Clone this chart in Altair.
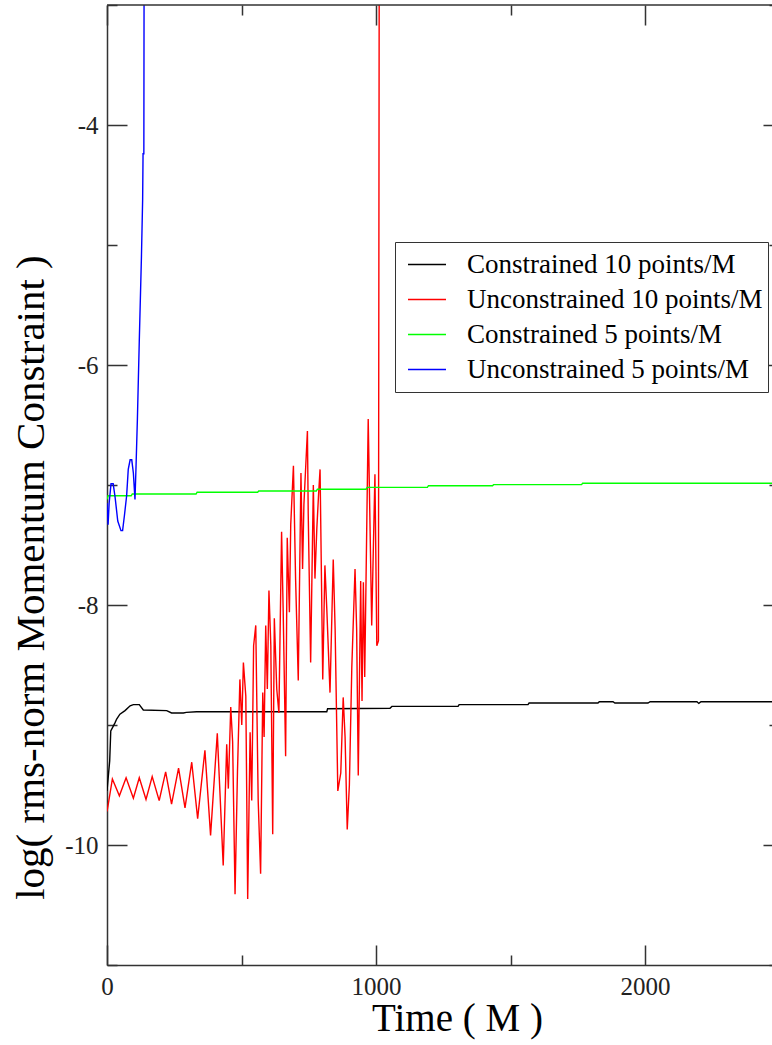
import altair as alt
import pandas as pd

# Series names and colours, in legend / drawing order
SERIES = [
    "Constrained 10 points/M",
    "Unconstrained 10 points/M",
    "Constrained 5 points/M",
    "Unconstrained 5 points/M",
]
COLORS = ["#000000", "#ff0000", "#00ff00", "#0000ff"]

# Constrained, 10 points/M
black_t = [0, 4, 10, 14, 21, 30, 36, 48, 67, 86, 98, 120, 135, 222, 240, 284, 295, 333,
           817, 820, 1052, 1059, 1305, 1309, 1565, 1569, 1825, 1830, 1881, 1888, 2011,
           2019, 2193, 2200, 2208, 2472]
black_v = [-9.55, -9.45, -9.3, -9.05, -9.02, -8.98, -8.95, -8.91, -8.88, -8.84, -8.83,
           -8.83, -8.875, -8.88, -8.9, -8.9, -8.895, -8.89, -8.89, -8.865, -8.86, -8.845,
           -8.845, -8.83, -8.83, -8.817, -8.817, -8.806, -8.806, -8.817, -8.817, -8.806,
           -8.806, -8.82, -8.806, -8.806]

# Unconstrained, 10 points/M
red_t = [0, 4, 20, 46, 71, 98, 120, 145, 168, 194,
         218, 240, 266, 290, 315, 337, 364, 385, 410, 432,
         445, 451, 460, 467, 476, 485, 494, 501, 507, 516,
         523, 532, 538, 545, 553, 562, 571, 579, 584, 590,
         596, 602, 609, 616, 622, 631, 639, 649, 655, 664,
         670, 678, 683, 693, 701, 711, 721, 727, 732, 745,
         748, 757, 767, 773, 780, 786, 792, 802, 810, 817,
         829, 841, 848, 858, 869, 878, 885, 893, 901, 910,
         922, 928, 934, 943, 948, 953, 958, 971, 984, 996,
         1003, 1009, 1012]
red_v = [-9.72, -9.67, -9.45, -9.59, -9.44, -9.61, -9.44, -9.62, -9.43, -9.63,
         -9.39, -9.66, -9.36, -9.69, -9.31, -9.78, -9.21, -9.92, -9.07, -10.17,
         -9.16, -9.53, -8.85, -9.14, -10.41, -9.39, -8.62, -9.0, -8.48, -8.76,
         -10.45, -9.06, -9.63, -8.34, -8.17, -9.63, -10.24, -8.73, -9.1, -8.17,
         -8.7, -7.88, -8.34, -9.91, -8.11, -8.7, -8.9, -7.39, -8.06, -9.26,
         -7.44, -8.06, -7.33, -6.84, -7.78, -8.63, -6.9, -7.7, -7.16, -6.55,
         -7.24, -8.48, -7.0, -7.78, -7.36, -7.1, -6.87, -8.62, -7.67, -8.03,
         -8.73, -7.62, -8.2, -9.55, -9.4, -8.77, -9.1, -9.87, -9.5, -8.52,
         -7.7, -8.2, -9.42, -7.8, -8.8, -7.81, -8.6, -6.45, -8.17, -6.91,
         -8.34, -8.3, -2.5]

# Constrained, 5 points/M
green_t = [0, 4, 90, 94, 331, 335, 560, 564, 778, 782, 963, 967, 1191, 1195, 1433,
           1437, 1764, 1768, 2472]
green_v = [-7.12, -7.09, -7.09, -7.075, -7.075, -7.06, -7.06, -7.05, -7.05, -7.035,
           -7.035, -7.02, -7.02, -7.006, -7.006, -6.997, -6.997, -6.986, -6.986]

# Unconstrained, 5 points/M
blue_t = [0, 4, 8, 15, 23, 30, 40, 52, 58, 65, 73, 79, 86, 92, 98, 104, 108, 113,
          120, 128, 132.5, 134, 137, 138]
blue_v = [-7.15, -7.33, -7.15, -6.99, -6.99, -7.1, -7.3, -7.38, -7.38, -7.25, -7.09,
          -6.87, -6.79, -6.79, -6.9, -7.12, -6.84, -6.45, -5.8, -5.1, -4.62, -4.24,
          -4.24, -2.5]

frames = []
for name, ts, vs in zip(SERIES, [black_t, red_t, green_t, blue_t],
                        [black_v, red_v, green_v, blue_v]):
    frames.append(pd.DataFrame({"t": ts, "v": vs, "series": name}))
df = pd.concat(frames, ignore_index=True)

W, H = 665, 960
FONT = "Liberation Serif"
AX = "#333333"

x_enc = alt.X(
    "t:Q",
    scale=alt.Scale(domain=[0, 2472], nice=False, zero=False),
    axis=alt.Axis(
        values=[0, 500, 1000, 1500, 2000],
        labelExpr="datum.value % 1000 === 0 ? '' + datum.value : ''",
        title="Time ( M )",
        titleX=350, titleY=65, titleAlign="center", titleBaseline="alphabetic",
        titleFont=FONT, titleFontSize=39, titleFontWeight="normal", titleColor="#000",
        labelFont=FONT, labelFontSize=25, labelColor="#222",
        labelBaseline="alphabetic", labelPadding=29, labelFlush=False,
        ticks=False, grid=True, gridColor=AX, gridWidth=1.5, gridOpacity=1,
        gridDash={"condition": {"test": "datum.value % 1000 === 0",
                                "value": [20, 920, 20, 100]},
                  "value": [10, 940, 10, 100]},
        domainColor=AX, domainWidth=1.5,
    ),
)
y_enc = alt.Y(
    "v:Q",
    scale=alt.Scale(domain=[-11, -3], nice=False, zero=False),
    axis=alt.Axis(
        values=[-11, -10, -9, -8, -7, -6, -5, -4, -3],
        labelExpr="datum.value % 2 === 0 ? '' + datum.value : ''",
        title="log( rms-norm Momentum Constraint )",
        titleFont=FONT, titleFontSize=41, titleFontWeight="normal", titleColor="#000",
        titleAngle=270, titleX=-64, titleY=572, titleAlign="center",
        titleBaseline="alphabetic",
        labelFont=FONT, labelFontSize=25, labelColor="#222", labelPadding=9,
        labelFlush=False,
        ticks=False, grid=True, gridColor=AX, gridWidth=1.5, gridOpacity=1,
        gridDash={"condition": {"test": "datum.value % 2 === 0",
                                "value": [20, 636, 9, 100]},
                  "value": [10, 652, 3, 100]},
        domainColor=AX, domainWidth=1.5,
    ),
)
color_enc = alt.Color(
    "series:N",
    scale=alt.Scale(domain=SERIES, range=COLORS),
    legend=alt.Legend(
        title=None, orient="none", legendX=288, legendY=237,
        symbolType="stroke", symbolSize=1444, symbolStrokeWidth=1.5,
        labelFont=FONT, labelFontSize=27, labelColor="#000", labelLimit=400,
        labelOffset=20, rowPadding=0, clipHeight=35, padding=5, symbolOffset=7,
        strokeColor=AX, fillColor="#ffffff", cornerRadius=0,
    ),
)

base = alt.Chart(df).encode(x=x_enc, y=y_enc, color=color_enc)
lines = [
    base.transform_filter(alt.datum.series == name).mark_line(strokeWidth=1.4, clip=True)
    for name in SERIES
]

# top edge of the frame
top_edge = alt.Chart(pd.DataFrame({"k": [0]})).mark_rule(
    color=AX, strokeWidth=1.5
).encode(x=alt.value(0), x2=alt.value(W), y=alt.value(0))

chart = alt.layer(*lines, top_edge).properties(
    width=W, height=H,
    background="#ffffff",
    autosize=alt.AutoSizeParams(type="none"),
    padding={"left": 107, "top": 5, "right": 0, "bottom": 75},
).configure_view(stroke=None)

chart.save("out.html", embed_options={"renderer": "svg", "actions": False})
